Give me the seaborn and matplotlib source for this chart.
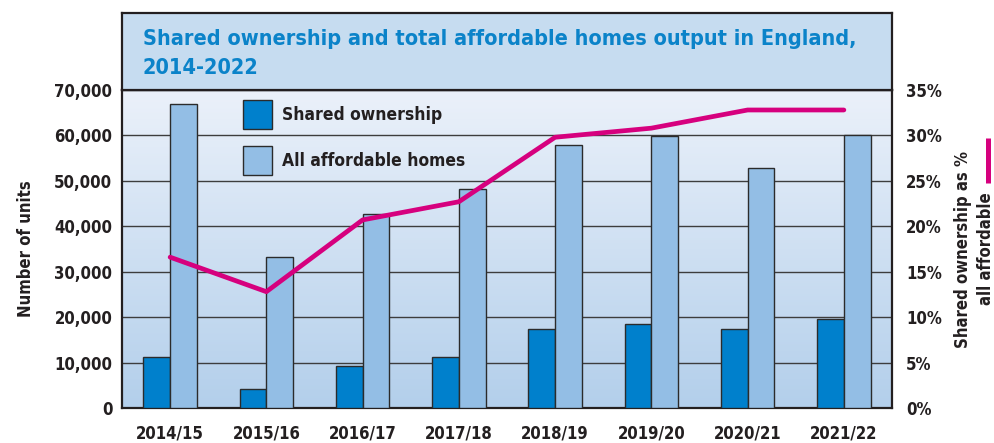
import numpy as np
import pandas as pd
import matplotlib
matplotlib.use("Agg")
import matplotlib.pyplot as plt
from matplotlib.patches import Patch
from matplotlib.lines import Line2D
import seaborn as sns

# data
years = ["2014/15", "2015/16", "2016/17", "2017/18",
         "2018/19", "2019/20", "2020/21", "2021/22"]
shared_ownership = [11300, 4200, 9200, 11300, 17300, 18600, 17300, 19700]
all_affordable = [66900, 33200, 42800, 48100, 58000, 59800, 52800, 60100]
share_pct = [16.6, 12.8, 20.7, 22.7, 29.8, 30.8, 32.8, 32.8]

series_names = ["Shared ownership", "All affordable homes"]
left_ticks = list(range(0, 70001, 10000))
right_ticks = list(range(0, 36, 5))

DARK = "#0080cc"
LIGHT = "#93bee5"
PINK = "#d6007e"
INK = "#231f20"
BLUE_TXT = "#0b83c9"

sns.set_style("white")
plt.rcParams["font.family"] = ["DejaVu Sans"]
plt.rcParams["font.stretch"] = "condensed"
plt.rcParams["font.weight"] = "bold"

df = pd.DataFrame({
    "year": years * 2,
    "units": shared_ownership + all_affordable,
    "series": [series_names[0]] * len(years) + [series_names[1]] * len(years),
})

fig = plt.figure(figsize=(9.95, 4.43), dpi=100)
ax = fig.add_axes([122 / 995, 35 / 443, 770 / 995, 318 / 443])
ax_t = fig.add_axes([122 / 995, 353 / 443, 770 / 995, 77 / 443])

# title box
ax_t.set_facecolor("#c6dcf0")
ax_t.set_xticks([])
ax_t.set_yticks([])
for s in ax_t.spines.values():
    s.set_color(INK)
    s.set_linewidth(1.6)
ax_t.text(0.027, 0.47, "Shared ownership and total affordable homes output in England,\n2014-2022",
          transform=ax_t.transAxes, ha="left", va="center", color=BLUE_TXT,
          fontsize=15.6, fontweight="bold", linespacing=1.55)

# gradient background for the plot area
grad = np.linspace(0, 1, 256).reshape(-1, 1)
cmap = matplotlib.colors.LinearSegmentedColormap.from_list("bg", ["#b3cfeb", "#ebf1fa"])
ax.imshow(grad, cmap=cmap, origin="lower", aspect="auto", extent=[0, 1, 0, 1],
          transform=ax.transAxes, zorder=-5)

sns.barplot(data=df, x="year", y="units", hue="series", palette=[DARK, LIGHT],
            saturation=1, width=0.555, edgecolor="#2b2b2b", linewidth=1.0, ax=ax,
            legend=False, zorder=3)

ax.set_axisbelow(True)
ax.yaxis.grid(True, color="#3d3d3d", linewidth=1.0)
ax.xaxis.grid(False)
ax.set_xlim(-0.5, len(years) - 0.5)
ax.set_ylim(0, 70000)
ax.set_yticks(left_ticks)
ax.set_yticklabels([f"{v:,}" for v in left_ticks])
ax.tick_params(axis="y", length=0, pad=7, labelsize=12, labelcolor=INK)
ax.tick_params(axis="x", length=0, pad=12, labelsize=12, labelcolor=INK)
for lab in ax.get_xticklabels() + ax.get_yticklabels():
    lab.set_fontweight("bold")
ax.set_xlabel("")
ax.set_ylabel("Number of units", fontsize=12, fontweight="bold", color=INK)
ax.yaxis.set_label_coords(-0.113, 0.5)
for s in ax.spines.values():
    s.set_color(INK)
    s.set_linewidth(1.6)

# share line on the right axis
ax2 = ax.twinx()
sns.lineplot(x=np.arange(len(years)), y=share_pct, ax=ax2, color=PINK,
             linewidth=3.4, zorder=5)
ax2.set_xlim(-0.5, len(years) - 0.5)
ax2.set_ylim(0, 35)
ax2.set_yticks(right_ticks)
ax2.set_yticklabels([f"{v}%" for v in right_ticks])
ax2.tick_params(axis="y", length=0, pad=10, labelsize=12, labelcolor=INK)
for lab in ax2.get_yticklabels():
    lab.set_fontweight("bold")
ax2.set_ylabel("Shared ownership as %\nall affordable", fontsize=12,
               fontweight="bold", color=INK, linespacing=1.3)
ax2.yaxis.set_label_coords(1.081, 0.5)
for s in ax2.spines.values():
    s.set_visible(False)

# legend for the bars
handles = [Patch(facecolor=DARK, edgecolor="#2b2b2b", linewidth=1.0),
           Patch(facecolor=LIGHT, edgecolor="#2b2b2b", linewidth=1.0)]
leg = ax.legend(handles, series_names, loc="upper left", bbox_to_anchor=(0.157, 0.968),
                frameon=False, fontsize=12.5, handlelength=1.67, handleheight=2.19,
                handletextpad=0.6, labelspacing=0.95, borderpad=0, borderaxespad=0)
for t in leg.get_texts():
    t.set_color(INK)
    t.set_fontweight("bold")

# key for the line next to the right axis label
fig.add_artist(Line2D([988 / 995, 988 / 995], [305 / 443, 260 / 443],
                      color=PINK, linewidth=3.6, solid_capstyle="butt"))

fig.savefig("out.png", dpi=100)
